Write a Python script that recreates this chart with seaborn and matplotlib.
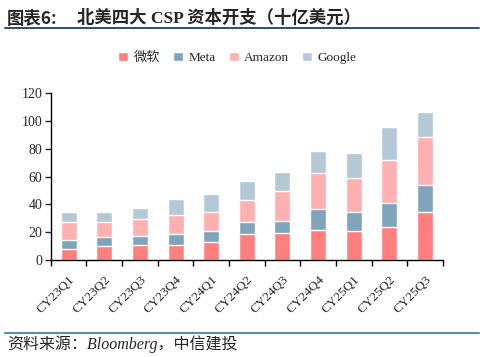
import pandas as pd
import numpy as np
import matplotlib.pyplot as plt
import seaborn as sns
from matplotlib.patches import Patch

# data (billion USD)
quarters = ['CY23Q1', 'CY23Q2', 'CY23Q3', 'CY23Q4', 'CY24Q1', 'CY24Q2',
            'CY24Q3', 'CY24Q4', 'CY25Q1', 'CY25Q2', 'CY25Q3']
msft = [7.8, 9.8, 11.0, 11.0, 13.1, 18.6, 19.6, 21.5, 20.8, 23.8, 34.3]
meta = [6.4, 6.5, 6.4, 7.4, 7.7, 8.6, 8.5, 15.2, 13.5, 17.2, 19.6]
amazon = [12.8, 10.7, 11.7, 14.0, 13.8, 15.7, 21.5, 25.8, 24.9, 31.0, 34.3]
google = [7.3, 7.3, 8.6, 11.7, 12.6, 14.1, 13.9, 16.0, 18.1, 23.4, 17.9]

labels = ['微软', 'Meta', 'Amazon', 'Google']
colors = ['#FF7F7F', '#7FA4BB', '#FFB0B0', '#B4C8D6']

df = pd.DataFrame({'quarter': quarters, '微软': msft, 'Meta': meta,
                   'Amazon': amazon, 'Google': google})
cum = df[labels].cumsum(axis=1)
cum['quarter'] = df['quarter']

sns.set_style('ticks')
plt.rcParams['font.family'] = ['Liberation Serif', 'Noto Sans CJK SC']

fig = plt.figure(figsize=(4.84, 3.57), dpi=100)
ax = fig.add_axes([0.105, 0.272, 0.81, 0.467])

# stacked bars: draw cumulative totals from the top layer down
for name, c in zip(labels[::-1], colors[::-1]):
    sns.barplot(data=cum, x='quarter', y=name, color=c, width=0.45,
                saturation=1, ax=ax, order=quarters)

ax.set_xlim(-0.5, len(quarters) - 0.5)
ax.set_ylim(0, 120)
ax.set_yticks(range(0, 121, 20))
ax.set_xlabel('')
ax.set_ylabel('')
sns.despine(ax=ax)
for s in ['left', 'bottom']:
    ax.spines[s].set_linewidth(1.0)
    ax.spines[s].set_color('black')

# ticks between categories
ax.set_xticks(np.arange(-0.5, len(quarters), 1), minor=True)
ax.tick_params(axis='x', which='major', length=0, pad=10)
ax.tick_params(axis='x', which='minor', length=4, width=1, direction='out', color='black')
ax.tick_params(axis='y', length=4, width=1, direction='out', labelsize=10, pad=2)
ax.set_xticks(range(len(quarters)))
ax.set_xticklabels(quarters, rotation=45, ha='right', rotation_mode='anchor', fontsize=9.5)

handles = [Patch(facecolor=c, label=l) for l, c in zip(labels, colors)]
fig.legend(handles=handles, loc='center', bbox_to_anchor=(0.49, 0.838), ncol=4,
           frameon=False, fontsize=9.5, handlelength=0.75, handleheight=0.75,
           handletextpad=0.4, columnspacing=1.0)

# title and source
fig.text(0.014, 0.948, '图表6:', fontsize=12.5, fontweight='bold', va='center',
         family=['Noto Sans CJK SC'])
fig.text(0.16, 0.948, '北美四大 CSP 资本开支（十亿美元）', fontsize=12.5,
         fontweight='bold', va='center', family=['Liberation Serif', 'Noto Sans CJK SC'])
fig.add_artist(plt.Line2D([0.01, 0.99], [0.921, 0.921], color='#1F3F66', lw=1.3))
fig.add_artist(plt.Line2D([0.01, 0.99], [0.067, 0.067], color='#5B8BB0', lw=1.5))
fig.text(0.014, 0.036, '资料来源：Bloomberg，中信建投', fontsize=11.5, style='italic',
         va='center', family=['Liberation Serif', 'Noto Sans CJK SC'])

plt.savefig('out.png', dpi=100)
